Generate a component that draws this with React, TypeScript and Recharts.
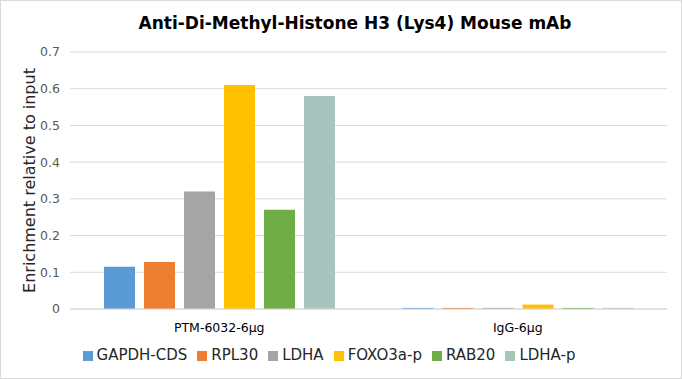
import React from "react";
import { BarChart, Bar, XAxis, YAxis, CartesianGrid, Legend, Label } from "recharts";

const categories = ["PTM-6032-6μg", "IgG-6μg"];
const seriesNames = ["GAPDH-CDS", "RPL30", "LDHA", "FOXO3a-p", "RAB20", "LDHA-p"];
const gapdhCds = [0.115, 0.003];
const rpl30 = [0.128, 0.003];
const ldha = [0.32, 0.003];
const foxo3aP = [0.61, 0.012];
const rab20 = [0.27, 0.003];
const ldhaP = [0.58, 0.003];
const yTicks = [0, 0.1, 0.2, 0.3, 0.4, 0.5, 0.6, 0.7];
const colors = ["#5B9BD5", "#ED7D31", "#A5A5A5", "#FFC000", "#70AD47", "#A8C5BD"];

const seriesValues = [gapdhCds, rpl30, ldha, foxo3aP, rab20, ldhaP];
const data = categories.map((c, i) => {
  const row: Record<string, string | number> = { name: c };
  seriesNames.forEach((s, j) => {
    row[s] = seriesValues[j][i];
  });
  return row;
});

const FONT = "'DejaVu Sans', Verdana, sans-serif";

export default function App() {
  return (
    <div
      style={{
        position: "absolute",
        left: 0,
        top: 0,
        width: 682,
        height: 379,
        background: "#fff",
        fontFamily: FONT,
        boxSizing: "border-box",
        border: "1px solid #D9D9D9",
      }}
    >
      <div
        style={{
          position: "absolute",
          left: 26,
          top: 12,
          width: 656,
          textAlign: "center",
          fontWeight: "bold",
          fontSize: 17,
          color: "#000",
        }}
      >
        Anti-Di-Methyl-Histone H3 (Lys4) Mouse mAb
      </div>
      <BarChart
        width={680}
        height={377}
        data={data}
        margin={{ top: 51, right: 14, bottom: 21, left: 0 }}
        barCategoryGap={34}
        barGap={9}
        style={{ fontFamily: FONT }}
      >
        <CartesianGrid vertical={false} stroke="#D9D9D9" />
        <XAxis
          dataKey="name"
          axisLine={{ stroke: "#D9D9D9" }}
          tickLine={false}
          tick={{ fontSize: 12.5, fill: "#000" }}
          tickMargin={8}
        />
        <YAxis
          width={69}
          domain={[0, 0.7]}
          ticks={yTicks}
          axisLine={false}
          tickLine={false}
          tick={{ fontSize: 12.5, fill: "#595959" }}
          tickMargin={4}
        >
          <Label
            value="Enrichment relative to input"
            angle={-90}
            position="insideLeft"
            offset={28}
            style={{ textAnchor: "middle", fontSize: 16, fill: "#262626" }}
          />
        </YAxis>
        <Legend
          verticalAlign="bottom"
          iconType="square"
          iconSize={10}
          itemSorter={null}
          wrapperStyle={{ bottom: 14, fontSize: 15 }}
          formatter={(v) => <span style={{ color: "#262626" }}>{v}</span>}
        />
        {seriesNames.map((s, j) => (
          <Bar key={s} dataKey={s} fill={colors[j]} isAnimationActive={false} />
        ))}
      </BarChart>
    </div>
  );
}
